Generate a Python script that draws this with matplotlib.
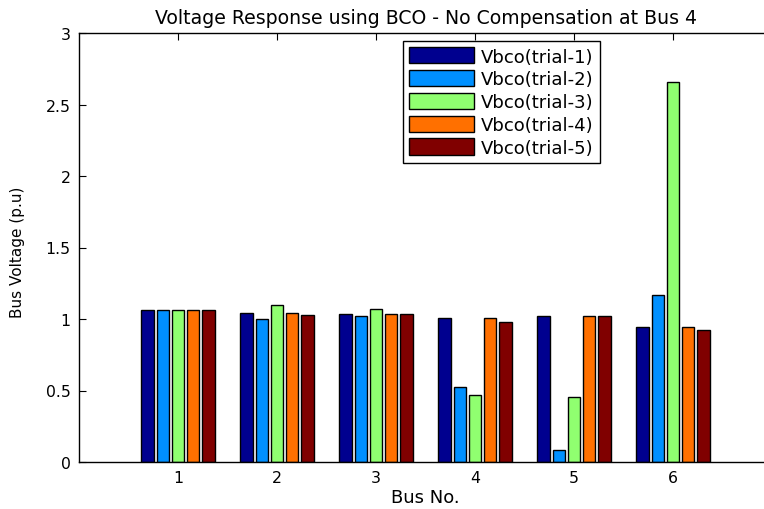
import matplotlib
matplotlib.use("Agg")
import matplotlib.pyplot as plt
import numpy as np

buses = [1, 2, 3, 4, 5, 6]
trial1 = [1.06, 1.044, 1.035, 1.007, 1.019, 0.946]
trial2 = [1.06, 1.000, 1.019, 0.524, 0.086, 1.168]
trial3 = [1.06, 1.098, 1.070, 0.471, 0.455, 2.657]
trial4 = [1.06, 1.044, 1.035, 1.007, 1.019, 0.946]
trial5 = [1.06, 1.028, 1.035, 0.981, 1.019, 0.921]
labels = ["Vbco(trial-1)", "Vbco(trial-2)", "Vbco(trial-3)", "Vbco(trial-4)", "Vbco(trial-5)"]
colors = ["#00008F", "#0090FF", "#90FF70", "#FF7000", "#800000"]
yticks = [0, 0.5, 1, 1.5, 2, 2.5, 3]

plt.rcParams['font.family'] = ['DejaVu Sans']

W, H = 764, 510
fig = plt.figure(figsize=(W / 100, H / 100), dpi=100)
ax = fig.add_axes([79 / W, (H - 463) / H, (772 - 79) / W, (463 - 34) / H])

series = [trial1, trial2, trial3, trial4, trial5]
n = len(series)
group_w = min(0.8, n / (n + 1.5))
step = group_w / n
bw = step * 0.8
x = np.array(buses, dtype=float)
for i, (vals, lab, col) in enumerate(zip(series, labels, colors)):
    ax.bar(x + (i - (n - 1) / 2) * step, vals, width=bw, color=col,
           edgecolor='black', linewidth=1.0, label=lab, zorder=2)

ax.set_xlim(0, 7)
ax.set_ylim(0, 3)
ax.set_xticks(buses)
ax.set_xticklabels([str(b) for b in buses])
ax.set_yticks(yticks)
ax.set_yticklabels(["0", "0.5", "1", "1.5", "2", "2.5", "3"])
ax.tick_params(direction='in', top=True, right=True, length=5, width=0.8,
               labelsize=11.3, pad=6)
for s in ax.spines.values():
    s.set_linewidth(1.0)

ax.set_title("Voltage Response using BCO - No Compensation at Bus 4",
             fontsize=13.6, pad=7)
ax.set_xlabel("Bus No.", fontsize=13, labelpad=2)
ax.set_ylabel("Bus Voltage (p.u)", fontsize=11)
ax.yaxis.set_label_coords(-0.078, 0.49)

leg = ax.legend(loc='upper left', bbox_to_anchor=((403 - 79) / 693, (463 - 42) / 429),
                fontsize=13, frameon=True, fancybox=False, framealpha=1,
                edgecolor='black', borderaxespad=0, borderpad=0.35,
                handlelength=3.6, handleheight=1.0, handletextpad=0.35,
                labelspacing=0.25)
leg.get_frame().set_linewidth(1.0)

fig.savefig("out.png", dpi=100)
